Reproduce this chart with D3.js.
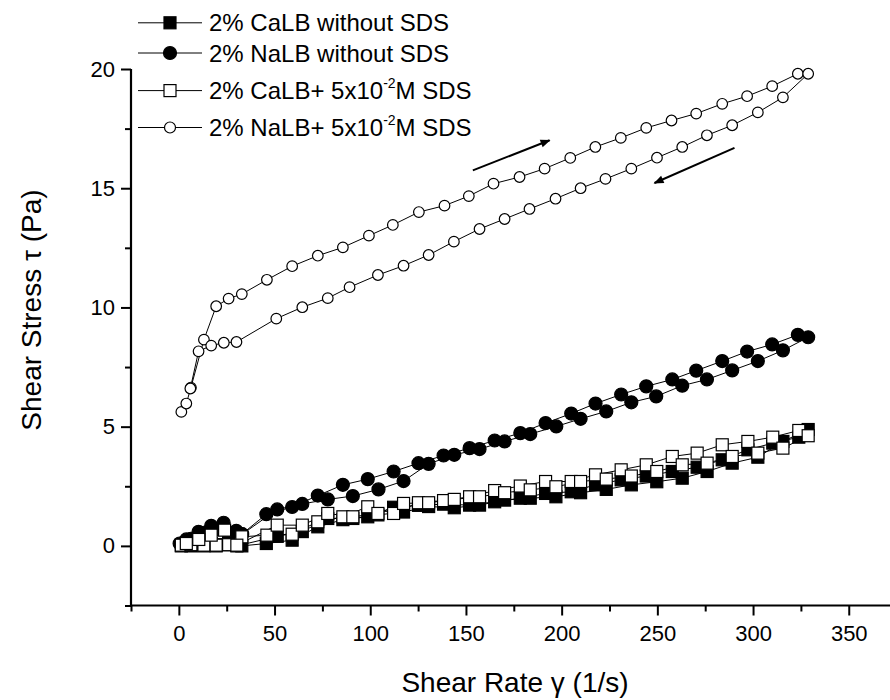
<!DOCTYPE html>
<html>
<head>
<meta charset="utf-8">
<script src="https://cdn.jsdelivr.net/npm/d3@7"></script>
<style>
body{margin:0;background:#fff;}
text{font-family:"Liberation Sans",Arial,sans-serif;fill:#000;}
</style>
</head>
<body>
<svg id="screen" width="890" height="700"></svg>
<script>
// shear rate / shear stress pairs (ramp up then ramp down)
var caNoSds=[[1.3,0.0],[3.9,0.05],[6.3,0.0],[13.1,0.0],[19.5,0.0],[26,0.1],[32.9,0.0],[45.7,0.1],[59.2,0.24],[72.6,0.8],[85.7,1.1],[98.7,1.22],[112.2,1.62],[125.2,1.7],[138.3,1.75],[151.9,1.71],[165,1.85],[178.4,2.0],[191.6,2.2],[205,2.27],[217.7,2.56],[231.1,2.77],[244.2,2.93],[257.8,3.12],[270.8,3.3],[283.9,3.61],[297.3,4.03],[310.3,4.31],[323.9,4.56],[328.8,4.88],
  [315.6,4.38],[302.5,3.72],[289.1,3.47],[276,3.12],[263,2.84],[249.7,2.69],[236.4,2.56],[223.3,2.37],[209.9,2.23],[197,2.06],[183.6,2.0],[170.2,1.92],[157.1,1.71],[143.9,1.6],[130.5,1.65],[117.4,1.42],[104,1.3],[90.9,1.15],[77.8,1.15],[64.5,0.6],[51.4,0.4],[30.3,0.0],[23.9,0.05],[16.9,0.1],[10.4,0.05]];
var naNoSds=[[1.3,0.05],[3.9,0.15],[6.3,0.3],[13.1,0.55],[19.5,0.7],[26,0.5],[32.9,0.49],[45.7,1.33],[59.2,1.63],[72.6,2.11],[85.7,2.56],[98.7,2.8],[112.2,3.12],[125.2,3.47],[138.3,3.79],[151.9,4.1],[165,4.42],[178.4,4.73],[191.6,5.15],[205,5.55],[217.7,5.97],[231.1,6.35],[244.2,6.69],[257.8,6.98],[270.3,7.35],[283.9,7.75],[296.9,8.15],[310,8.45],[323.4,8.85],[328.8,8.75],
  [315.6,8.2],[302.5,7.75],[289.1,7.36],[275.9,6.98],[263,6.72],[249.4,6.27],[236.4,6.02],[223.3,5.64],[209.9,5.33],[197.2,5.01],[183.6,4.69],[170.2,4.38],[157.1,4.06],[143.9,3.82],[130.5,3.44],[117.4,2.72],[104.3,2.37],[90.9,2.09],[77.8,1.95],[64.5,1.76],[51.4,1.53],[33.1,0.49],[30,0.63],[23.4,0.97],[16.9,0.84],[10.3,0.59],[3.9,0.27],[0.4,0.1]];
var caSds=[[1.3,0.03],[6.3,0.05],[13.1,0.03],[19.5,0.03],[26,0.05],[32.9,0.38],[46,0.45],[59.2,0.49],[72.6,1.01],[85.7,1.22],[98.7,1.64],[112.2,1.36],[125.2,1.81],[138.3,1.9],[151.9,2.06],[165,2.32],[178.4,2.51],[191.6,2.7],[205,2.7],[217.7,2.98],[231.1,3.19],[244.2,3.4],[257.8,3.75],[270.8,3.89],[283.9,4.24],[297.3,4.38],[310.3,4.56],[323.9,4.84],[328.8,4.62],
  [315.6,4.1],[302.5,3.89],[289.1,3.75],[276,3.47],[263,3.4],[249.7,3.12],[236.4,2.93],[223.3,2.8],[209.9,2.7],[197,2.48],[183.6,2.35],[170.2,2.23],[157.1,2.06],[143.9,1.95],[130.5,1.81],[117.4,1.78],[104,1.36],[90.9,1.22],[77.8,1.36],[64.5,0.87],[51.4,0.87],[30.3,0.03],[23.9,0.66],[16.9,0.45],[10.4,0.27],[3.9,0.1]];
var naSds=[[1.3,5.62],[3.9,5.97],[6.3,6.64],[13.1,8.65],[19.5,10.05],[26,10.37],[32.9,10.56],[46,11.16],[59.2,11.73],[72.6,12.17],[85.7,12.52],[99.3,13.01],[111.8,13.46],[125.4,14.0],[138.8,14.27],[151.5,14.67],[164.4,15.19],[178,15.47],[191.1,15.82],[204.5,16.27],[217.6,16.73],[230.9,17.11],[244.2,17.53],[257.4,17.84],[270.3,18.13],[283.9,18.54],[296.9,18.86],[310,19.28],[323.4,19.8],[328.8,19.8],
  [315.6,18.81],[302.5,18.18],[289.1,17.64],[275.9,17.22],[263,16.73],[249.8,16.28],[236.4,15.82],[222.9,15.39],[209.9,15.0],[196.8,14.56],[183.2,14.13],[170.2,13.71],[157.1,13.29],[143.7,12.76],[130.5,12.2],[117.4,11.75],[104,11.36],[89.2,10.85],[77.8,10.39],[64.5,10.01],[50.9,9.53],[30.1,8.55],[23.5,8.52],[16.9,8.4],[10.3,8.16],[6.0,6.6]];

var seriesNames=["2% CaLB without SDS","2% NaLB without SDS","2% CaLB+ 5x10","2% NaLB+ 5x10"];
var xTicks=[0,50,100,150,200,250,300,350];
var xMinor=[-25,25,75,125,175,225,275,325,375];
var yTicks=[0,5,10,15,20];
var yMinor=[-2.5,2.5,7.5,12.5,17.5];
// arrows: [from, to] in data units
var arrows=[[[153.6,15.75],[193.7,17.01]],[[290.3,16.69],[248.5,15.22]]];

var svg=d3.select("#screen");
var x=d3.scaleLinear().domain([-25,375]).range([131,896.6]);
var y=d3.scaleLinear().domain([-2.5,20]).range([605.5,69]);

//arrow head marker
svg.append("defs").append("marker").attr("id","head").attr("viewBox","0 0 10 10")
  .attr("refX",9).attr("refY",5).attr("markerWidth",14).attr("markerHeight",10)
  .attr("markerUnits","userSpaceOnUse").attr("orient","auto")
  .append("path").attr("d","M0,1 L10,5 L0,9 Z").attr("fill","#000");

//axes - major and minor ticks
var gx=svg.append("g").attr("transform","translate(0,605.5)");
gx.call(d3.axisBottom(x).tickValues(xTicks).tickSize(10).tickSizeOuter(0).tickPadding(10));
gx.append("g").call(d3.axisBottom(x).tickValues(xMinor).tickSize(6).tickSizeOuter(0).tickFormat(""));
var gy=svg.append("g").attr("transform","translate(131,0)");
gy.call(d3.axisLeft(y).tickValues(yTicks).tickSize(10).tickSizeOuter(0).tickPadding(6));
gy.append("g").call(d3.axisLeft(y).tickValues(yMinor).tickSize(6).tickSizeOuter(0).tickFormat(""));
svg.selectAll(".domain").remove();
svg.selectAll(".tick line").attr("stroke","#000").attr("stroke-width",2);
svg.selectAll(".tick text").attr("font-size",22).attr("font-family","Liberation Sans, Arial, sans-serif").attr("fill","#000");
svg.append("line").attr("x1",x(-25)-1).attr("x2",890).attr("y1",605.5).attr("y2",605.5).attr("stroke","#000").attr("stroke-width",2.2);
svg.append("line").attr("x1",131).attr("x2",131).attr("y1",y(20)).attr("y2",606.5).attr("stroke","#000").attr("stroke-width",2.2);

//axis titles
svg.append("text").attr("x",515).attr("y",692).attr("text-anchor","middle").attr("font-size",28).text("Shear Rate \u03b3 (1/s)");
svg.append("text").attr("transform","translate(41,310) rotate(-90)").attr("text-anchor","middle").attr("font-size",28).text("Shear Stress \u03c4 (Pa)");

var line=d3.line().x(function(d){return x(d[0]);}).y(function(d){return y(d[1]);});

function drawSeries(data,shape,fill,size){
  svg.append("path").datum(data).attr("d",line).attr("fill","none").attr("stroke","#000").attr("stroke-width",1);
  var g=svg.append("g");
  if(shape=="square"){
    g.selectAll("rect").data(data).enter().append("rect")
      .attr("x",function(d){return x(d[0])-size/2;}).attr("y",function(d){return y(d[1])-size/2;})
      .attr("width",size).attr("height",size).attr("fill",fill).attr("stroke","#000").attr("stroke-width",1.2);
  } else {
    g.selectAll("circle").data(data).enter().append("circle")
      .attr("cx",function(d){return x(d[0]);}).attr("cy",function(d){return y(d[1]);})
      .attr("r",size).attr("fill",fill).attr("stroke","#000").attr("stroke-width",1.2);
  }
}
drawSeries(caNoSds,"square","#000",12);
drawSeries(naNoSds,"circle","#000",6.5);
drawSeries(caSds,"square","#fff",12);
drawSeries(naSds,"circle","#fff",5.3);

//direction arrows
svg.selectAll(".arrow").data(arrows).enter().append("line").attr("class","arrow")
  .attr("x1",function(d){return x(d[0][0]);}).attr("y1",function(d){return y(d[0][1]);})
  .attr("x2",function(d){return x(d[1][0]);}).attr("y2",function(d){return y(d[1][1]);})
  .attr("stroke","#000").attr("stroke-width",2).attr("marker-end","url(#head)");

//legend
var legY=[22.8,53,90.6,127.5];
var legShape=["square","circle","square","circle"];
var legFill=["#000","#000","#fff","#fff"];
var leg=svg.append("g");
seriesNames.forEach(function(name,i){
  var cy=legY[i];
  leg.append("line").attr("x1",138).attr("x2",202).attr("y1",cy).attr("y2",cy).attr("stroke","#000").attr("stroke-width",1);
  if(legShape[i]=="square"){
    leg.append("rect").attr("x",164).attr("y",cy-6).attr("width",12).attr("height",12).attr("fill",legFill[i]).attr("stroke","#000").attr("stroke-width",1.2);
  } else {
    leg.append("circle").attr("cx",170).attr("cy",cy).attr("r",i==1?6.5:5.5).attr("fill",legFill[i]).attr("stroke","#000").attr("stroke-width",1.2);
  }
  var t=leg.append("text").attr("x",209).attr("y",cy+8.5).attr("font-size",24).text(name);
  if(i>=2){
    t.append("tspan").attr("dy",-11).attr("font-size",14).text("-2");
    t.append("tspan").attr("dy",11).attr("font-size",24).text("M SDS");
  }
});
</script>
</body>
</html>
